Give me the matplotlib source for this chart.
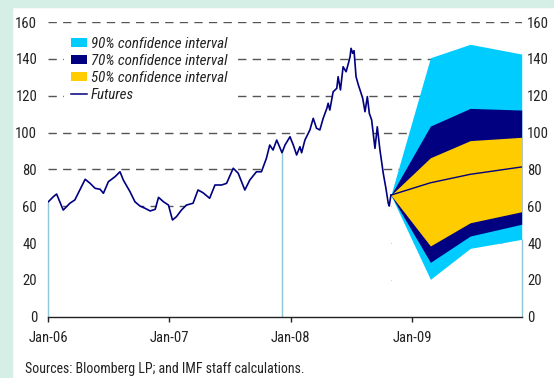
import matplotlib
matplotlib.use("Agg")
import matplotlib.pyplot as plt
import matplotlib.dates as mdates
from matplotlib.patches import Rectangle, Patch
from matplotlib.lines import Line2D
import numpy as np
import pandas as pd

# ---- data ----
fut_dates = ["2006-01-01", "2006-01-16", "2006-01-26", "2006-02-15", "2006-03-07", "2006-03-22",
             "2006-04-22", "2006-05-07", "2006-05-22", "2006-06-06", "2006-06-16", "2006-07-01",
             "2006-07-21", "2006-08-05", "2006-08-15", "2006-09-04", "2006-09-19", "2006-10-04",
             "2006-10-20", "2006-11-04", "2006-11-19", "2006-11-29", "2006-12-14", "2006-12-29",
             "2007-01-10", "2007-01-22", "2007-02-06", "2007-02-21", "2007-03-13", "2007-03-28",
             "2007-04-12", "2007-05-02", "2007-05-18", "2007-06-07", "2007-06-22", "2007-07-12",
             "2007-07-27", "2007-08-16", "2007-08-31", "2007-09-20", "2007-10-05", "2007-10-20",
             "2007-10-30", "2007-11-09", "2007-11-20", "2007-12-06", "2007-12-15", "2007-12-30",
             "2008-01-09", "2008-01-19", "2008-01-29", "2008-02-03", "2008-02-13", "2008-02-28",
             "2008-03-09", "2008-03-19", "2008-03-29", "2008-04-08", "2008-04-19", "2008-04-23",
             "2008-04-28", "2008-05-08", "2008-05-19", "2008-05-23", "2008-05-30", "2008-06-07",
             "2008-06-16", "2008-06-23", "2008-06-28", "2008-07-01", "2008-07-06", "2008-07-10",
             "2008-07-16", "2008-07-23", "2008-07-28", "2008-08-05", "2008-08-12", "2008-08-19",
             "2008-08-25", "2008-09-01", "2008-09-11", "2008-09-18", "2008-09-26", "2008-10-06",
             "2008-10-14", "2008-10-21", "2008-10-24", "2008-10-29"]
fut_values = [62.4, 65.1, 66.6, 57.9, 61.6, 63.4,
              74.6, 72.4, 69.7, 69.2, 67.0, 73.3,
              76.0, 78.7, 74.2, 67.9, 62.4, 60.1,
              58.8, 57.4, 58.3, 64.8, 62.4, 60.6,
              52.5, 54.3, 57.9, 60.6, 61.6, 68.8,
              67.3, 64.3, 71.5, 71.5, 72.4, 80.6,
              77.9, 68.8, 74.2, 78.7, 78.7, 86.0,
              93.2, 90.5, 95.9, 89.0, 93.2, 97.7,
              93.2, 87.8, 92.3, 89.0, 95.9, 101.4,
              107.7, 102.3, 101.4, 107.7, 113.1, 115.9,
              112.2, 122.1, 124.0, 130.3, 123.1, 135.7,
              133.0, 137.6, 141.2, 145.7, 143.0, 144.4,
              130.3, 125.8, 123.1, 118.6, 111.3, 119.5,
              110.4, 106.8, 91.4, 103.1, 90.5, 77.8,
              69.7, 61.6, 60.1, 66.0]

fan_dates = ["2008-10-29", "2009-02-25", "2009-06-25", "2009-11-27"]
ci90_upper = [66.0, 140.6, 147.9, 142.6]
ci90_lower = [66.0, 20.3, 37.1, 42.0]
ci70_upper = [66.0, 103.5, 113.1, 112.2]
ci70_lower = [66.0, 29.5, 43.8, 50.2]
ci50_upper = [66.0, 86.3, 95.6, 97.4]
ci50_lower = [66.0, 38.4, 51.0, 57.0]
median = [66.0, 72.7, 77.3, 81.3]

y_ticks = [0, 20, 40, 60, 80, 100, 120, 140, 160]
x_ticks = ["2006-01-01", "2007-01-01", "2008-01-01", "2009-01-01"]
vline_dates = ["2006-01-01", "2007-12-06"]
legend_labels = ["90% confidence interval", "70% confidence interval",
                 "50% confidence interval", "Futures"]
source_text = "Sources: Bloomberg LP; and IMF staff calculations."

# ---- style ----
FONT = ["Roboto Condensed", "DejaVu Sans"]
plt.rcParams["font.family"] = FONT
C90, C70, C50, NAVY = "#00ccff", "#000080", "#ffcc00", "#000080"
VLC = "#8ec5db"
TXT = "#222222"

W, H = 554, 378
fig = plt.figure(figsize=(W / 100, H / 100), dpi=100)
fig.patch.set_facecolor("white")
fig.patches.append(Rectangle((0, 0), 11.7 / W, 1, transform=fig.transFigure,
                             color="#d6efe6", zorder=0))
fig.patches.append(Rectangle((0, 1 - 7.3 / H), 1, 7.3 / H, transform=fig.transFigure,
                             color="#d6efe6", zorder=0))

x0, x1, yb, yt = 48.3, 521.7, 316.7, 22.0
ax = fig.add_axes([x0 / W, 1 - yb / H, (x1 - x0) / W, (yb - yt) / H])
ax.set_facecolor("none")

fd = pd.to_datetime(fut_dates)
fv = np.array(fut_values)
fnd = pd.to_datetime(fan_dates)

ax.set_ylim(0, 160)
ax.set_xlim(pd.Timestamp("2006-01-01"), fnd[-1])

ax.set_axisbelow(True)
ax.yaxis.grid(True, color="#555555", lw=1.0, linestyle=(0, (6, 4.5)))
ax.xaxis.grid(False)

# white area under the history and below the fan masks the grid
ax.fill_between(fd, 0, fv, color="white", lw=0, zorder=1.5)
ax.fill_between(fnd, 0, ci90_lower, color="white", lw=0, zorder=1.5)
ax.fill_between(fnd, ci90_lower, ci90_upper, color=C90, lw=0, zorder=2)
ax.fill_between(fnd, ci70_lower, ci70_upper, color=C70, lw=0, zorder=2.1)
ax.fill_between(fnd, ci50_lower, ci50_upper, color=C50, lw=0, zorder=2.2)
ax.plot(fnd, median, color=NAVY, lw=1.0, zorder=3)

vd = pd.to_datetime(vline_dates)
vtops = [fv[list(fd).index(d)] for d in vd]
ax.vlines(vd, 0, vtops, color=VLC, lw=1.0, zorder=2.5, clip_on=False)
ax.vlines([fnd[-1]], 0, [ci90_lower[-1]], color=VLC, lw=1.0, zorder=2.5, clip_on=False)

ax.plot(fd, fv, color=NAVY, lw=1.2, zorder=3)

for s in ["top", "left", "right"]:
    ax.spines[s].set_visible(False)
ax.spines["bottom"].set_color(TXT)
ax.spines["bottom"].set_linewidth(1.0)
ax.spines["bottom"].set_zorder(4)

ax.set_yticks(y_ticks)
ax.set_xticks(pd.to_datetime(x_ticks))
ax.xaxis.set_major_formatter(mdates.DateFormatter("%b-%y"))
ax.tick_params(axis="y", length=0, pad=8, labelsize=10.5, colors=TXT)
ax.tick_params(axis="x", length=3.6, width=1, pad=7, labelsize=10.5,
               colors=TXT, direction="out")

ax2 = ax.twinx()
ax2.set_ylim(0, 160)
ax2.set_yticks(y_ticks)
ax2.tick_params(axis="y", length=0, pad=4, labelsize=10.5, colors=TXT)
for s in ax2.spines.values():
    s.set_visible(False)

handles = [Patch(facecolor=C90, edgecolor="none"),
           Patch(facecolor=C70, edgecolor="none"),
           Patch(facecolor=C50, edgecolor="none"),
           Line2D([0], [0], color=NAVY, lw=1.1)]
leg = ax.legend(handles, legend_labels, loc="upper left",
                bbox_to_anchor=(64 / W, 1 - 30 / H), bbox_transform=fig.transFigure,
                borderaxespad=0, borderpad=0.45, frameon=True, fancybox=False,
                framealpha=1, edgecolor="white", facecolor="white",
                handlelength=1.05, handleheight=0.62, handletextpad=0.3,
                labelspacing=0.2, prop={"family": FONT, "style": "italic", "size": 10.8})
for t in leg.get_texts():
    t.set_color(TXT)
leg.set_zorder(5)

fig.text(25 / W, 1 - 369 / H, source_text, ha="left", va="center",
         fontsize=10, color=TXT)

fig.savefig("out.png", dpi=100)
